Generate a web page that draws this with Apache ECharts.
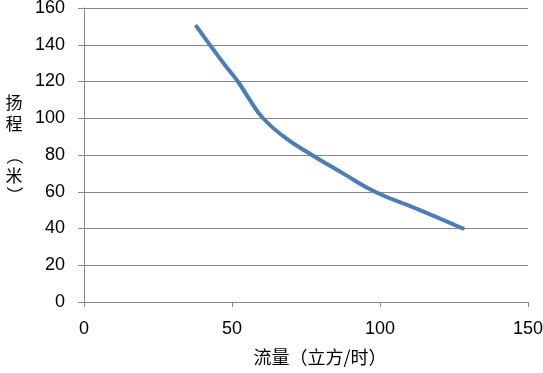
<!DOCTYPE html>
<html><head><meta charset="utf-8">
<script src="https://cdn.jsdelivr.net/npm/echarts@6/dist/echarts.min.js"></script>
<style>html,body{margin:0;padding:0;background:#fff}#c{width:543px;height:373px}</style>
</head><body><div id="c"></div>
<script>
const flow = [38, 47.1, 52, 56, 60.5, 67.5, 77, 87.5, 98.3, 113.5, 128];
const head = [150, 130, 120, 110, 100, 90, 80, 70, 60, 50, 40];
const xName = '流量（立方/时）';
const yNameParts = ['扬', '程', '（', '米', '）'];

const chart = echarts.init(document.getElementById('c'), null, {renderer: 'canvas'});
const font = '"Liberation Sans", "Noto Sans CJK SC", sans-serif';
const cjk = '17px "Noto Sans CJK SC"';
const yPos = [103, 124, 156, 176, 195];
const rot = [0, 0, -Math.PI / 2, 0, -Math.PI / 2];
chart.setOption({
  animation: false,
  backgroundColor: '#fff',
  grid: {left: 84, right: 15, top: 8, bottom: 71, containLabel: false, outerBoundsMode: 'none'},
  xAxis: {
    type: 'value', min: 0, max: 150, interval: 50,
    name: xName, nameLocation: 'middle', nameGap: 46,
    nameTextStyle: {color: '#000', fontSize: 18, fontFamily: '"Noto Sans CJK SC", sans-serif', padding: [0, 0, 0, 28]},
    axisLine: {show: true, onZero: false, lineStyle: {color: '#888', width: 1}},
    axisTick: {show: true, length: 5, lineStyle: {color: '#888'}},
    axisLabel: {color: '#000', fontSize: 18, margin: 18, fontFamily: font},
    splitLine: {show: false}
  },
  yAxis: {
    type: 'value', min: 0, max: 160, interval: 20,
    axisLine: {show: true, lineStyle: {color: '#888', width: 1}},
    axisTick: {show: true, length: 6, lineStyle: {color: '#888'}},
    axisLabel: {color: '#000', fontSize: 18, margin: 19, fontFamily: font},
    splitLine: {show: true, lineStyle: {color: '#888', width: 1}}
  },
  graphic: yNameParts.map((t, i) => ({
    type: 'text', x: 14, y: yPos[i], rotation: rot[i],
    style: {text: t, fill: '#000', font: cjk, align: 'center', verticalAlign: 'middle'}
  })),
  series: [{
    type: 'line',
    data: flow.map((x, i) => [x, head[i]]),
    smooth: 0.5,
    showSymbol: false,
    lineStyle: {color: '#4A7EBB', width: 4, cap: 'round'}
  }]
});
</script></body></html>
